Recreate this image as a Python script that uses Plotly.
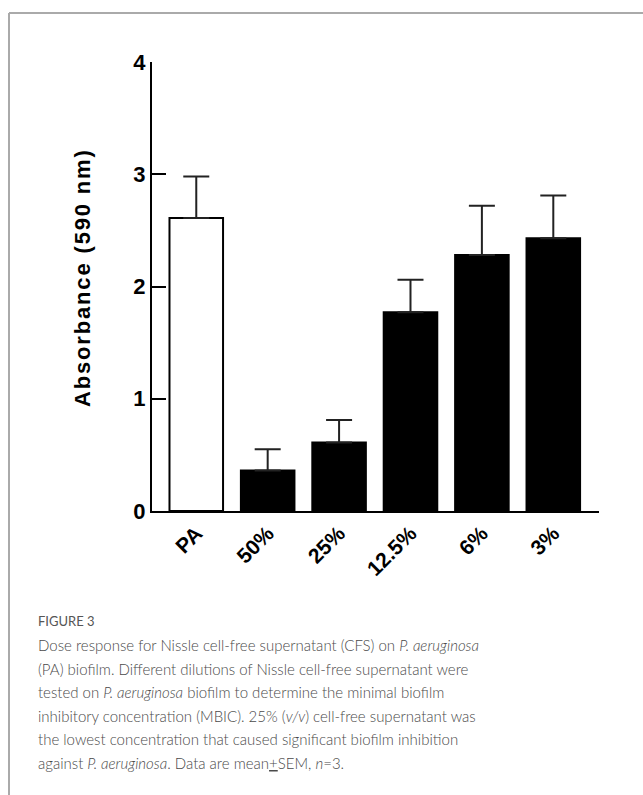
import plotly.graph_objects as go

categories = ["PA", "50%", "25%", "12.5%", "6%", "3%"]
means = [2.61, 0.36, 0.61, 1.77, 2.28, 2.43]
sems = [0.37, 0.19, 0.20, 0.29, 0.44, 0.38]
fills = ["white", "black", "black", "black", "black", "black"]
y_ticks = [0, 1, 2, 3, 4]

W, H = 643, 795
L, R = 152, 599
T, B = 62, 511
pw, ph = R - L, B - T

def px(x):
    return (x - L) / pw

def py(y):
    return (B - y) / ph

AX_FONT = "Arial"

fig = go.Figure()
fig.add_trace(go.Bar(
    x=list(range(len(categories))),
    y=means,
    width=0.75,
    marker=dict(color=fills, line=dict(color="black", width=2)),
    error_y=dict(type="data", array=sems, arrayminus=[0] * len(sems),
                 symmetric=False, thickness=2, width=13, color="#222"),
))

fig.update_layout(
    width=W, height=H,
    margin=dict(l=L, r=W - R, t=T, b=H - B, autoexpand=False),
    paper_bgcolor="white", plot_bgcolor="white",
    showlegend=False,
    font=dict(family=AX_FONT, color="black"),
    xaxis=dict(
        range=[-0.62, 5.64],
        tickmode="array", tickvals=list(range(len(categories))), ticktext=categories,
        tickangle=-45, ticks="", showgrid=False, zeroline=False,
        showline=True, linecolor="black", linewidth=2,
        tickfont=dict(size=21, family=AX_FONT, weight="bold", color="black"),
    ),
    yaxis=dict(
        range=[0, 4], tickmode="array", tickvals=y_ticks,
        ticks="inside", ticklen=14, tickwidth=2, tickcolor="black",
        showgrid=False, zeroline=False,
        showline=True, linecolor="black", linewidth=2,
        tickfont=dict(size=22, family=AX_FONT, weight="bold", color="black"),
    ),
)

# y-axis title (slightly letter-spaced)
title = "Absorbance (590 nm)"
spaced = "\u200a".join(list(title))
fig.add_annotation(
    x=px(82), y=py(279), xref="paper", yref="paper",
    text=spaced, textangle=-90, showarrow=False,
    font=dict(size=22, family=AX_FONT, weight="bold", color="black"),
    xanchor="center", yanchor="middle",
)

# frame
fig.add_shape(type="line", xref="paper", yref="paper",
              x0=px(9), x1=px(643), y0=py(13), y1=py(13),
              line=dict(color="#aaaaaa", width=2))
fig.add_shape(type="line", xref="paper", yref="paper",
              x0=px(9), x1=px(9), y0=py(13), y1=py(795),
              line=dict(color="#aaaaaa", width=2))

# caption
cap_font = "Lato"
fig.add_annotation(x=px(36), y=py(621), xref="paper", yref="paper",
                   text="FIGURE 3", showarrow=False, xanchor="left", yanchor="middle",
                   font=dict(size=13, family=cap_font, color="#555555"))
caption_lines = [
    "Dose response for Nissle cell-free supernatant (CFS) on <i>P. aeruginosa</i>",
    "(PA) biofilm. Different dilutions of Nissle cell-free supernatant were",
    "tested on <i>P. aeruginosa</i> biofilm to determine the minimal biofilm",
    "inhibitory concentration (MBIC). 25% (<i>v/v</i>) cell-free supernatant was",
    "the lowest concentration that caused significant biofilm inhibition",
    "against <i>P. aeruginosa</i>. Data are mean<u>+</u>SEM, <i>n</i>=3.",
]
line_y = [645, 668.5, 692, 715.5, 739.5, 763]
for txt, yy in zip(caption_lines, line_y):
    fig.add_annotation(x=px(36), y=py(yy), xref="paper", yref="paper",
                       text=txt, showarrow=False, xanchor="left", yanchor="middle",
                       font=dict(size=15, family=cap_font, color="#4a4a4a", weight=300))

fig.write_html("out.html", config={"displayModeBar": False},
               post_script="document.body.style.margin='0';")
